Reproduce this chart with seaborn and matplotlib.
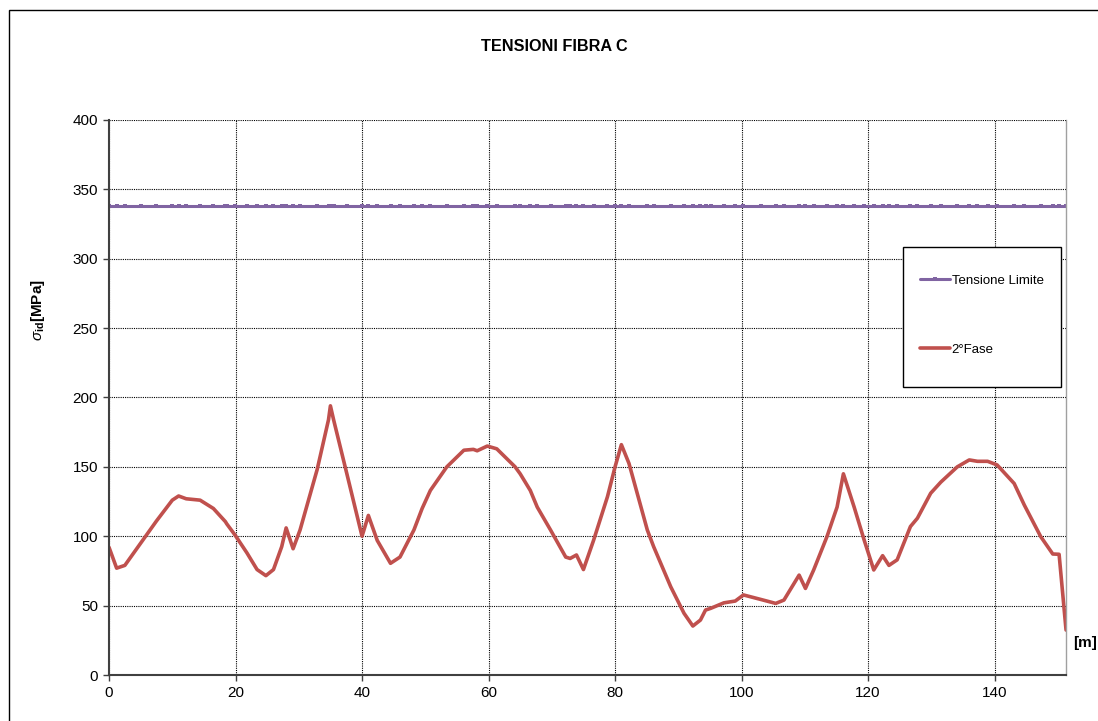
import matplotlib
matplotlib.use('Agg')
import matplotlib.pyplot as plt
import seaborn as sns
import numpy as np
import pandas as pd
from matplotlib.patches import Rectangle

sns.set_theme(style='white')
plt.rcParams['font.family'] = ['Liberation Sans', 'DejaVu Sans']
plt.rcParams['mathtext.fontset'] = 'custom'
plt.rcParams['mathtext.rm'] = 'Liberation Sans'
plt.rcParams['mathtext.it'] = 'Liberation Sans:italic'
plt.rcParams['mathtext.bf'] = 'Liberation Sans:bold'
for k in ['text.color', 'axes.labelcolor', 'xtick.color', 'ytick.color']:
    plt.rcParams[k] = 'black'

# stazioni [m] e tensioni 2° fase [MPa]
stazioni = [0, 1.2, 2.5, 5, 7.5, 10, 11, 12.2, 14.4, 16.5, 18.4, 18.6, 19.9, 21.8,
            23.4, 24.8, 26, 27.3, 28, 29.1, 30.2, 32.9, 34.7, 35, 35.5, 37.6, 40,
            41, 42.4, 44.5, 46, 48.2, 49.5, 50.8, 53.4, 56.1, 57.6, 58.2, 59.8,
            61.3, 64.2, 65, 66.6, 67.7, 69.8, 72.2, 72.9, 73.9, 75, 76.6, 78.8,
            80, 81, 82.2, 85.1, 86.1, 88.8, 90.9, 92.3, 93.5, 94.3, 95.1, 97.2,
            99, 100.3, 103, 105.4, 106.7, 109.1, 110.1, 111.4, 113.5, 115.1,
            116.1, 117.8, 119.4, 120.9, 122.3, 123.3, 124.6, 126.7, 127.8, 129.9,
            131.5, 134.1, 136, 137.3, 138.9, 140.4, 143.1, 144.7, 147.3, 149.2,
            150.2, 151.3]
fase2 = [92, 77, 79, 95, 111, 126, 129, 127, 126, 120, 110.5, 109, 101, 88,
         76, 71.6, 76, 92.5, 106, 91, 104.5, 148, 184, 194, 184, 145, 100,
         115, 97, 80.5, 85, 104.5, 120, 133, 150, 162, 162.6, 161.6, 165,
         163, 150, 145, 133, 121, 104.5, 85, 84, 86.5, 76, 97, 128.5,
         150, 166, 152.5, 104.5, 92.5, 63.6, 44.5, 35.3, 39.6, 46.8, 48, 52,
         53.3, 57.7, 54.5, 51.6, 54, 72, 62.4, 75.7, 99.7, 121,
         145, 121, 97, 75.7, 86, 79, 83, 107, 113, 131,
         139, 150, 155, 154, 154, 151.4, 138, 122.5, 99.7, 87.2,
         87, 32.4]
tensione_limite = 338

df = pd.DataFrame({'x': stazioni, 'fase2': fase2})
df['limite'] = tensione_limite

fig = plt.figure(figsize=(10.98, 7.21), dpi=100)
ax = fig.add_axes([0.0993, 0.0638, 0.8716, 0.7698])

sns.lineplot(data=df, x='x', y='limite', ax=ax, color='#8064A2', lw=2.2,
             marker='s', markersize=3.5, markeredgewidth=0, label='Tensione Limite',
             estimator=None, sort=False)
sns.lineplot(data=df, x='x', y='fase2', ax=ax, color='#C0504D', lw=2.6,
             label='2°Fase', estimator=None, sort=False,
             solid_joinstyle='round', solid_capstyle='round')

ax.set_xlim(0, 151.3)
ax.set_ylim(0, 400)
ax.set_xticks(np.arange(0, 141, 20))
ax.set_yticks(np.arange(0, 401, 50))
ax.grid(True, color='black', linestyle=(0, (1, 1)), linewidth=0.8)
ax.tick_params(axis='both', labelsize=11, direction='out', length=4, width=1,
               color='#404040', pad=4, left=True, bottom=True)
for s in ['left', 'bottom']:
    ax.spines[s].set_color('#404040')
    ax.spines[s].set_linewidth(1.5)
ax.spines['top'].set_visible(False)
ax.spines['right'].set_color('#A0A0A0')
ax.spines['right'].set_linewidth(1)
ax.set_xlabel('')
ax.set_ylabel('')

fig.text(0.505, 0.935, 'TENSIONI FIBRA C', ha='center', va='center',
         fontsize=11.7, fontweight='bold')
fig.text(0.035, 0.57, r'$\sigma_{\mathbf{id}}$[MPa]', rotation=90, ha='center',
         va='center', fontsize=11, fontweight='bold')
fig.text(0.988, 0.108, '[m]', ha='center', va='center', fontsize=11,
         fontweight='bold')

# legenda con riquadro separato (come in Excel)
ax.add_patch(Rectangle((0.8297, 0.519), 0.1651, 0.2522, transform=ax.transAxes,
                       facecolor='white', edgecolor='black', linewidth=1,
                       zorder=4, clip_on=False))
leg = ax.legend(loc='upper left', bbox_to_anchor=(0.8344, 0.7440),
                fontsize=9.5, frameon=False, labelspacing=4.3, borderpad=0.95,
                handlelength=2.3, handletextpad=0.1, borderaxespad=0)
leg.set_zorder(5)

fig.patches.append(Rectangle((9 / 1098, -0.05), 1.2, 1 - 10 / 721 + 0.05,
                             transform=fig.transFigure, fill=False,
                             edgecolor='black', linewidth=1, zorder=-1))

fig.savefig('out.png', dpi=100)
